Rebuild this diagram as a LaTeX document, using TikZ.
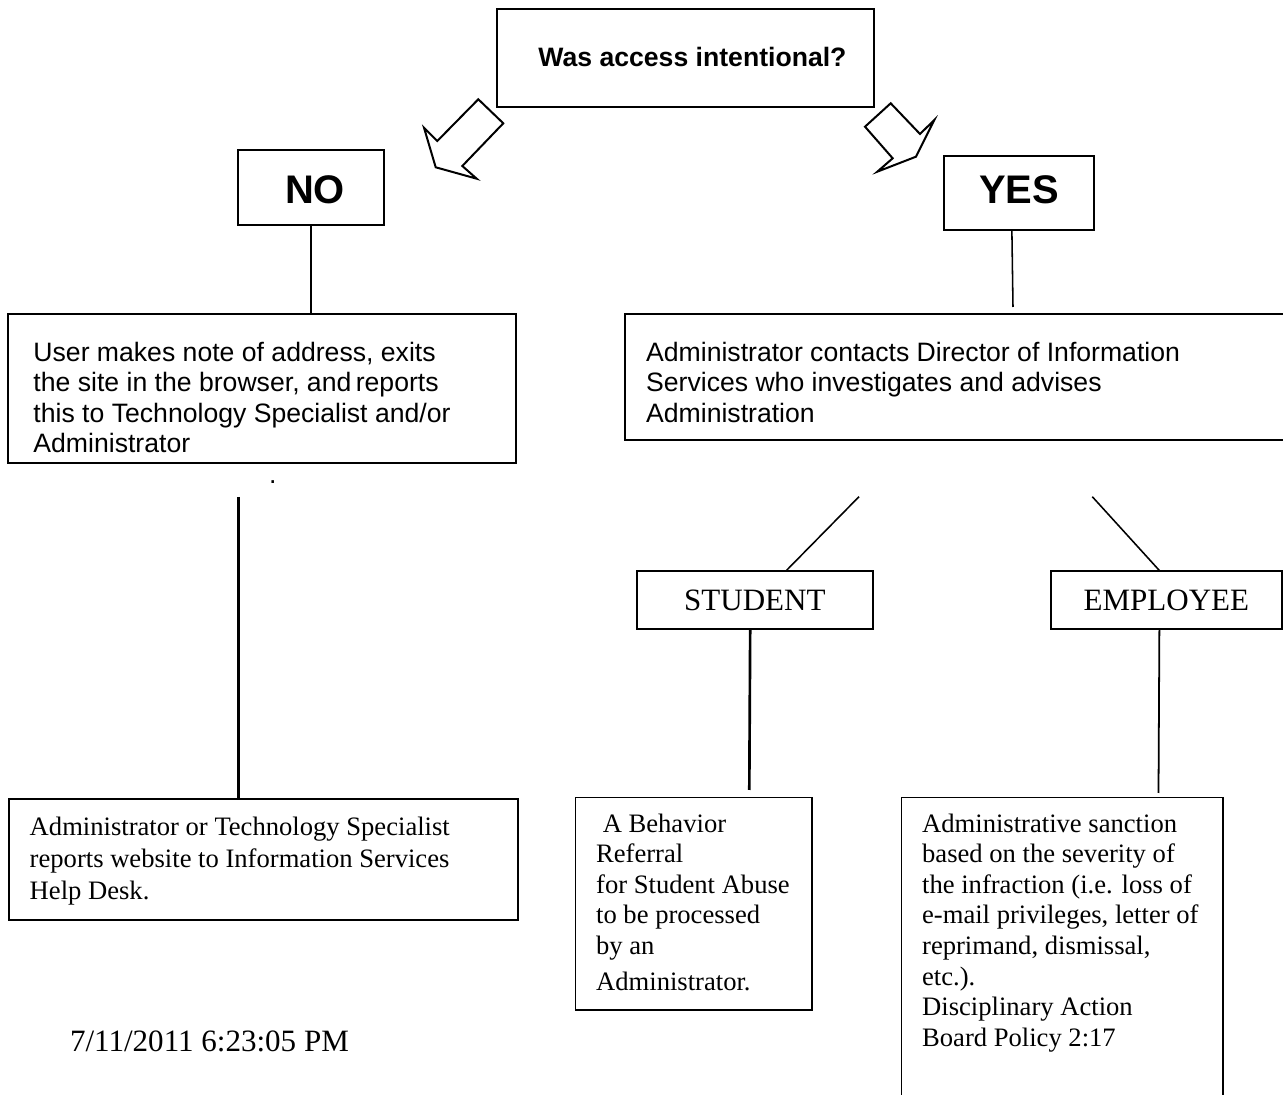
\documentclass[tikz,border=0pt]{standalone}
\usepackage{fontspec}
\setmainfont{Liberation Serif}
\newfontfamily\arialf{Liberation Sans}
\def\ux{0.451pt}
\begin{document}
\begin{tikzpicture}[x=0.451pt,y=-0.451pt,
  boxnode/.style={draw, line width=0.8pt, inner sep=0pt, anchor=north west},
  txt/.style={inner sep=0pt, align=left, anchor=north west},
  sanstxt/.style={font=\arialf\fontsize{12}{13.67}\selectfont},
  bigser/.style={font=\fontsize{14}{16}\selectfont},
  bigsans/.style={font=\arialf\bfseries\fontsize{18}{20}\selectfont},
  arrowshape/.style={draw, fill=white, line width=0.9pt, line join=miter},
  thinline/.style={line width=0.8pt},
  hairline/.style={line width=0.7pt},
  thickline/.style={line width=1.2pt}]
\useasboundingbox (0,0) rectangle (1283,1095);
\clip (0,0) rectangle (1283,1095);

% question
\node[boxnode, minimum width=377*\ux, minimum height=98*\ux] (q) at (496,8) {};
\node[anchor=base west, inner sep=0pt, font=\arialf\bfseries\fontsize{12}{14}\selectfont] (qt) at (538,67) {Was access intentional?};

% block arrows
\draw[arrowshape] (478.3,99.3) -- (503.3,123.3) -- (462.3,166) -- (476.7,178.7) -- (435.7,167.3) -- (424,127.7) -- (437.3,141) -- cycle;
\draw[arrowshape] (890.7,103.3) -- (920,134) -- (934.3,120) -- (916,156.7) -- (877.3,171.7) -- (892.7,158.3) -- (865,126.7) -- cycle;

% NO / YES
\node[boxnode, minimum width=146*\ux, minimum height=75*\ux] (no) at (237,149) {};
\node[anchor=base, inner sep=0pt, bigsans] (not) at (315,204) {NO};
\node[boxnode, minimum width=150*\ux, minimum height=74*\ux] (yes) at (943,155) {};
\node[anchor=base, inner sep=0pt, bigsans] (yest) at (1019,204) {YES};

% second level
\node[boxnode, minimum width=508*\ux, minimum height=149*\ux] (user) at (7,313) {};
\node[txt, sanstxt] (usert) at (33,339.8) {\strut User makes note of address, exits\\the site in the browser, and\,reports\\this to Technology Specialist and/or\\Administrator};
\node[anchor=base, inner sep=0pt, font=\arialf\fontsize{12}{14}\selectfont] (dot) at (272.7,483.5) {.};

\node[boxnode, minimum width=700*\ux, minimum height=126*\ux] (adm) at (624.3,313.3) {};
\node[txt, sanstxt] (admt) at (645.7,339.8) {\strut Administrator contacts Director of Information\\Services who investigates and advises\\Administration};

% STUDENT / EMPLOYEE
\node[boxnode, bigser, minimum width=236*\ux, minimum height=58*\ux] (student) at (636,570.3) {STUDENT};
\node[boxnode, bigser, minimum width=231*\ux, minimum height=58*\ux] (employee) at (1050,570.3) {EMPLOYEE};

% bottom boxes
\node[boxnode, minimum width=509*\ux, minimum height=121.4*\ux] (report) at (7.9,797.9) {};
\node[txt, font=\fontsize{12}{14.43}\selectfont] (reportt) at (29.3,813) {\strut Administrator or Technology Specialist\\reports website to Information Services\\Help Desk.};

\node[boxnode, minimum width=236.3*\ux, minimum height=212.3*\ux] (behav) at (574.7,796.7) {};
\node[txt, font=\fontsize{12}{13.76}\selectfont] (behavt) at (595.7,810.4) {\strut\hspace*{0.25em}A Behavior\\Referral\\for Student Abuse\\to be processed\\by an\\[2.4pt]Administrator.};

\node[boxnode, minimum width=321.5*\ux, minimum height=400*\ux] (sanction) at (900.7,796.7) {};
\node[txt, font=\fontsize{12}{13.8}\selectfont] (sanctiont) at (921.7,810.3) {\strut Administrative sanction\\based on the severity of\\the infraction (i.e. loss of\\e-mail privileges, letter of\\reprimand, dismissal,\\etc.).\\Disciplinary Action\\Board Policy 2:17};

\node[anchor=base west, inner sep=0pt, bigser] (date) at (69.6,1051.4) {7/11/2011 6:23:05 PM};

% connectors
\draw[thinline] (no.south) -- (user.north -| no.south);
\coordinate (yesend) at (1013,307);
\draw[hairline] ([xshift=-7*\ux]yes.south) -- (yesend);
\coordinate (ltop) at (238.5,497);
\draw[thickline] (ltop) -- (ltop |- report.north);
\coordinate (sdiag) at (859,496.7);
\draw[hairline] (sdiag) -- ([xshift=31.7*\ux]student.north);
\coordinate (ediag) at (1092.3,496.7);
\draw[hairline] (ediag) -- ([xshift=-7.2*\ux]employee.north);
\coordinate (send) at (749.3,790);
\draw[thickline] ([xshift=-4.7*\ux]student.south) -- (send);
\coordinate (eend) at (1158.5,793);
\draw[thinline] ([xshift=-7*\ux]employee.south) -- (eend);
\end{tikzpicture}
\end{document}
